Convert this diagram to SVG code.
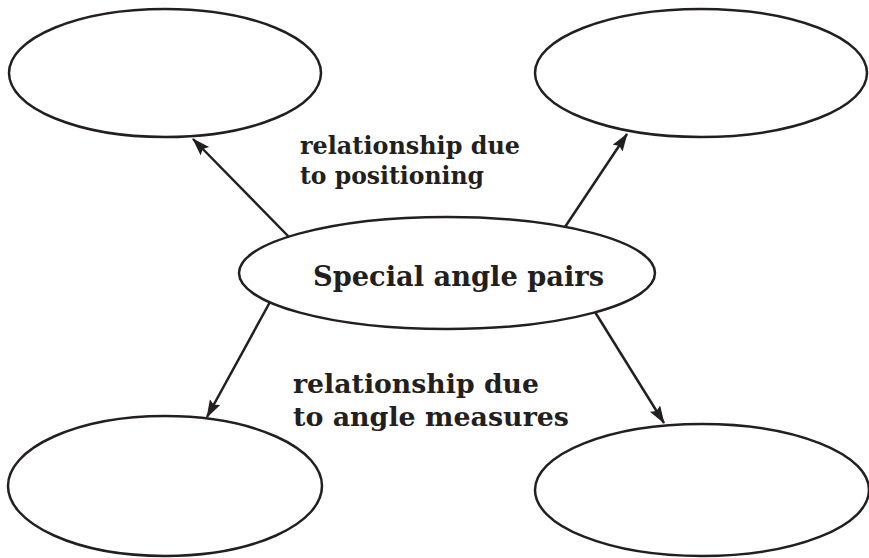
<svg xmlns="http://www.w3.org/2000/svg" width="869" height="558" viewBox="0 0 869 558">
<style>
.node ellipse{fill:#fff;stroke:#231f20;stroke-width:2.5}
.conn line{stroke:#231f20;stroke-width:2.5}
text{font-family:"DejaVu Serif","Liberation Serif",serif;font-weight:bold;fill:#231f20}
</style>
<defs>
<marker id="ah" markerUnits="userSpaceOnUse" markerWidth="20" markerHeight="14" refX="17" refY="6" orient="auto">
<path d="M0,0 L18,6 L0,12 L3,6 z" fill="#231f20"/>
</marker>
</defs>
<rect width="869" height="558" fill="#fff"/>
<g id="n-top-left" class="node"><ellipse cx="165" cy="73" rx="156" ry="64"/></g>
<g id="n-top-right" class="node"><ellipse cx="701" cy="73" rx="166" ry="64"/></g>
<g id="n-bottom-left" class="node"><ellipse cx="165" cy="486" rx="157" ry="70"/></g>
<g id="n-bottom-right" class="node"><ellipse cx="702" cy="490" rx="167" ry="66"/></g>
<g id="n-center" class="node"><ellipse cx="447" cy="273" rx="208" ry="56"/>
<text x="313" y="286" font-size="28" textLength="291" lengthAdjust="spacingAndGlyphs">Special angle pairs</text></g>
<g id="connectors" class="conn">
<line x1="289" y1="237" x2="193" y2="139" marker-end="url(#ah)"/>
<line x1="565" y1="227" x2="627" y2="134" marker-end="url(#ah)"/>
<line x1="270" y1="302" x2="207" y2="417" marker-end="url(#ah)"/>
<line x1="595" y1="312" x2="664" y2="423" marker-end="url(#ah)"/>
</g>
<g id="label-positioning">
<text x="300" y="154" font-size="25" textLength="220" lengthAdjust="spacingAndGlyphs">relationship due</text>
<text x="300" y="184" font-size="25" textLength="184" lengthAdjust="spacingAndGlyphs">to positioning</text>
</g>
<g id="label-measures">
<text x="293" y="393" font-size="26" textLength="246" lengthAdjust="spacingAndGlyphs">relationship due</text>
<text x="293" y="426" font-size="26" textLength="276" lengthAdjust="spacingAndGlyphs">to angle measures</text>
</g>
</svg>
